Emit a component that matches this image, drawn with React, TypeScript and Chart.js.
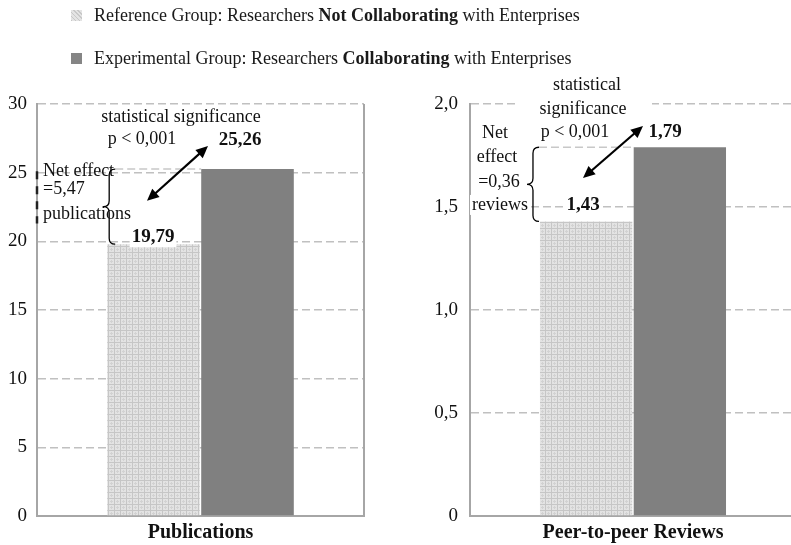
import React, { useEffect, useRef } from "react";
import { Chart, registerables } from "chart.js";
Chart.register(...registerables);

const FONT = "'Liberation Serif', 'Times New Roman', serif";

// ---- data ----
const seriesNames = [
  "Reference Group: Researchers Not Collaborating with Enterprises",
  "Experimental Group: Researchers Collaborating with Enterprises",
];
const pubCategories = ["Publications"];
const pubReference = [19.79];
const pubExperimental = [25.26];
const pubTickValues = [0, 5, 10, 15, 20, 25, 30];
const pubTickLabels = ["0", "5", "10", "15", "20", "25", "30"];
const pubValueLabels = ["19,79", "25,26"];
const pubNetEffect = ["Net effect", "=5,47", "publications"];

const revCategories = ["Peer-to-peer Reviews"];
const revReference = [1.43];
const revExperimental = [1.79];
const revTickValues = [0, 0.5, 1, 1.5, 2];
const revTickLabels = ["0", "0,5", "1,0", "1,5", "2,0"];
const revValueLabels = ["1,43", "1,79"];
const revNetEffect = ["Net", "effect", "=0,36", "reviews"];

const significanceText = ["statistical significance", "p < 0,001"];
const significanceTextSplit = ["statistical", "significance", "p < 0,001"];

type Txt = { text: string; dx: number; v: number; align: CanvasTextAlign; bold?: boolean; bg?: boolean };
type Ann = {
  texts: Txt[];
  boxes: { dx1: number; dx2: number; v1: number; v2: number }[];
  arrow: { dx1: number; v1: number; dx2: number; v2: number };
  braceOffset: number;
  vTop: number;
  vBot: number;
  leftDash?: { v1: number; v2: number };
  rightBorder: boolean;
};

function makeHatch(): CanvasPattern | string {
  const c = document.createElement("canvas");
  c.width = 6;
  c.height = 6;
  const g = c.getContext("2d");
  if (!g) return "#d0d0d0";
  g.fillStyle = "#e3e3e3";
  g.fillRect(0, 0, 6, 6);
  g.fillStyle = "#c6c6c6";
  g.fillRect(0, 0, 6, 1);
  g.fillRect(0, 0, 1, 6);
  g.fillStyle = "#d2d2d2";
  g.fillRect(3, 2, 1, 3);
  g.fillRect(2, 3, 3, 1);
  return g.createPattern(c, "repeat") || "#d0d0d0";
}

function drawArrow(ctx: CanvasRenderingContext2D, x1: number, y1: number, x2: number, y2: number) {
  const ang = Math.atan2(y2 - y1, x2 - x1);
  const h = 12;
  const w = 5.5;
  const c = Math.cos(ang);
  const s = Math.sin(ang);
  ctx.beginPath();
  ctx.moveTo(x1 + c * h * 0.7, y1 + s * h * 0.7);
  ctx.lineTo(x2 - c * h * 0.7, y2 - s * h * 0.7);
  ctx.stroke();
  const head = (x: number, y: number, cc: number, ss: number) => {
    ctx.beginPath();
    ctx.moveTo(x, y);
    ctx.lineTo(x - h * cc + w * ss, y - h * ss - w * cc);
    ctx.lineTo(x - h * cc - w * ss, y - h * ss + w * cc);
    ctx.closePath();
    ctx.fill();
  };
  head(x2, y2, c, s);
  head(x1, y1, -c, -s);
}

function drawBrace(ctx: CanvasRenderingContext2D, x: number, yTop: number, yBot: number, w: number) {
  const ym = (yTop + yBot) / 2;
  ctx.beginPath();
  ctx.moveTo(x + w, yTop);
  ctx.quadraticCurveTo(x, yTop, x, yTop + w);
  ctx.lineTo(x, ym - w);
  ctx.quadraticCurveTo(x, ym, x - w, ym);
  ctx.quadraticCurveTo(x, ym, x, ym + w);
  ctx.lineTo(x, yBot - w);
  ctx.quadraticCurveTo(x, yBot, x + w, yBot);
  ctx.stroke();
}

function makeAnnotPlugin(a: Ann) {
  return {
    id: "annots",
    afterDraw(chart: any) {
      const ctx: CanvasRenderingContext2D = chart.ctx;
      const { left, right, top, bottom } = chart.chartArea;
      const ys = chart.scales.y;
      const X = (dx: number) => left + dx;
      const Y = (v: number) => ys.getPixelForValue(v);
      ctx.save();
      if (a.rightBorder) {
        ctx.strokeStyle = "#a6a6a6";
        ctx.lineWidth = 2;
        ctx.beginPath();
        ctx.moveTo(right, top);
        ctx.lineTo(right, bottom + 1);
        ctx.stroke();
      }
      ctx.fillStyle = "#ffffff";
      for (const b of a.boxes) {
        ctx.fillRect(X(b.dx1), Y(b.v1), X(b.dx2) - X(b.dx1), Y(b.v2) - Y(b.v1));
      }
      const bar0 = chart.getDatasetMeta(0).data[0];
      const bar1 = chart.getDatasetMeta(1).data[0];
      const lightLeft = bar0.x - bar0.width / 2;
      const darkLeft = bar1.x - bar1.width / 2;
      const braceX = lightLeft + a.braceOffset;
      ctx.setLineDash([8, 4]);
      ctx.strokeStyle = "#c8c8c8";
      ctx.lineWidth = 1.5;
      ctx.beginPath();
      ctx.moveTo(braceX + 6, Y(a.vTop));
      ctx.lineTo(darkLeft, Y(a.vTop));
      ctx.stroke();
      if (a.leftDash) {
        ctx.setLineDash([8, 7]);
        ctx.strokeStyle = "#222";
        ctx.lineWidth = 2.5;
        ctx.beginPath();
        ctx.moveTo(left, Y(a.leftDash.v1));
        ctx.lineTo(left, Y(a.leftDash.v2));
        ctx.stroke();
      }
      ctx.setLineDash([]);
      ctx.textBaseline = "middle";
      for (const t of a.texts) {
        ctx.font = t.bold ? `bold 19px ${FONT}` : `18px ${FONT}`;
        ctx.textAlign = t.align;
        const w = ctx.measureText(t.text).width;
        const x = X(t.dx);
        const y = Y(t.v);
        if (t.bg) {
          const x0 = t.align === "center" ? x - w / 2 : t.align === "right" ? x - w : x;
          ctx.fillStyle = "#ffffff";
          ctx.fillRect(x0 - 2, y - 10, w + 4, 20);
        }
        ctx.fillStyle = "#111111";
        ctx.fillText(t.text, x, y);
      }
      ctx.strokeStyle = "#000";
      ctx.lineWidth = 1.3;
      drawBrace(ctx, braceX, Y(a.vTop), Y(a.vBot), 6);
      ctx.lineWidth = 2.2;
      ctx.fillStyle = "#000";
      drawArrow(ctx, X(a.arrow.dx1), Y(a.arrow.v1), X(a.arrow.dx2), Y(a.arrow.v2));
      ctx.restore();
    },
  };
}

function buildConfig(
  labels: string[],
  ref: number[],
  exp: number[],
  max: number,
  step: number,
  tickValues: number[],
  tickLabels: string[],
  yWidth: number,
  tickPad: number,
  padRight: number,
  ann: Ann
): any {
  return {
    type: "bar",
    data: {
      labels,
      datasets: [
        {
          label: seriesNames[0],
          data: ref,
          backgroundColor: makeHatch(),
          borderWidth: 0,
          categoryPercentage: 0.575,
          barPercentage: 0.985,
        },
        {
          label: seriesNames[1],
          data: exp,
          backgroundColor: "#808080",
          borderWidth: 0,
          categoryPercentage: 0.575,
          barPercentage: 0.985,
        },
      ],
    },
    options: {
      animation: false,
      responsive: false,
      layout: { padding: { top: 104, right: padRight, left: 0, bottom: 0 } },
      plugins: { legend: { display: false }, tooltip: { enabled: false } },
      scales: {
        x: {
          grid: { display: false, drawTicks: false },
          border: { display: true, color: "#a6a6a6", width: 2 },
          ticks: { color: "#111", font: { family: FONT, size: 20, weight: "bold" }, padding: 5 },
          afterFit: (s: any) => {
            s.height = 29;
          },
        },
        y: {
          min: 0,
          max,
          ticks: {
            stepSize: step,
            color: "#111",
            font: { family: FONT, size: 19 },
            padding: tickPad,
            callback: (v: number) => {
              const i = tickValues.findIndex((t) => Math.abs(t - v) < 1e-9);
              return i >= 0 ? tickLabels[i] : "";
            },
          },
          grid: {
            drawTicks: false,
            lineWidth: 1.6,
            color: (c: any) => (c.tick && c.tick.value === 0 ? "rgba(0,0,0,0)" : "#c0c0c0"),
          },
          border: { display: true, color: "#a6a6a6", width: 2, dash: [8, 4] },
          afterFit: (s: any) => {
            s.width = yWidth;
          },
        },
      },
    },
    plugins: [makeAnnotPlugin(ann)],
  };
}

const pubAnn: Ann = {
  texts: [
    { text: significanceText[0], dx: 144, v: 29.0, align: "center" },
    { text: significanceText[1], dx: 105, v: 27.4, align: "center" },
    { text: pubValueLabels[1], dx: 203, v: 27.4, align: "center", bold: true },
    { text: pubNetEffect[0], dx: 6, v: 25.1, align: "left" },
    { text: pubNetEffect[1], dx: 6, v: 23.8, align: "left" },
    { text: pubNetEffect[2], dx: 6, v: 22.0, align: "left" },
    { text: pubValueLabels[0], dx: 116, v: 20.3, align: "center", bold: true, bg: true },
  ],
  boxes: [],
  arrow: { dx1: 110, v1: 22.95, dx2: 171, v2: 26.94 },
  braceOffset: 2,
  vTop: pubExperimental[0],
  vBot: pubReference[0],
  leftDash: { v1: 25.1, v2: 21.3 },
  rightBorder: true,
};

const revAnn: Ann = {
  texts: [
    { text: significanceTextSplit[0], dx: 117, v: 2.092, align: "center" },
    { text: significanceTextSplit[1], dx: 113, v: 1.976, align: "center" },
    { text: significanceTextSplit[2], dx: 105, v: 1.864, align: "center" },
    { text: revValueLabels[1], dx: 195, v: 1.864, align: "center", bold: true },
    { text: revNetEffect[0], dx: 25, v: 1.859, align: "center" },
    { text: revNetEffect[1], dx: 27, v: 1.743, align: "center" },
    { text: revNetEffect[2], dx: 29, v: 1.621, align: "center" },
    { text: revNetEffect[3], dx: 30, v: 1.51, align: "center", bg: true },
    { text: revValueLabels[0], dx: 113, v: 1.51, align: "center", bold: true, bg: true },
  ],
  boxes: [{ dx1: 47, dx2: 182, v1: 2.06, v2: 1.95 }],
  arrow: { dx1: 113, v1: 1.641, dx2: 173, v2: 1.893 },
  braceOffset: -7,
  vTop: revExperimental[0],
  vBot: revReference[0],
  rightBorder: false,
};

function Legend() {
  const base: React.CSSProperties = {
    position: "absolute",
    left: 71,
    fontFamily: FONT,
    fontSize: 18,
    color: "#1a1a1a",
    whiteSpace: "nowrap",
    display: "flex",
    alignItems: "center",
    lineHeight: "20px",
  };
  const sq: React.CSSProperties = { width: 11, height: 11, marginRight: 12, display: "inline-block" };
  return (
    <>
      <div style={{ ...base, top: 5 }}>
        <span
          style={{
            ...sq,
            background: "repeating-linear-gradient(45deg,#c8c8c8 0 1px,#e4e4e4 1px 3px)",
          }}
        />
        <span>
          Reference Group: Researchers <b>Not Collaborating</b> with Enterprises
        </span>
      </div>
      <div style={{ ...base, top: 48 }}>
        <span style={{ ...sq, background: "#858585" }} />
        <span>
          Experimental Group: Researchers <b>Collaborating</b> with Enterprises
        </span>
      </div>
    </>
  );
}

export default function App() {
  const leftRef = useRef<HTMLCanvasElement>(null);
  const rightRef = useRef<HTMLCanvasElement>(null);
  useEffect(() => {
    if (!leftRef.current || !rightRef.current) return;
    const c1 = new Chart(
      leftRef.current,
      buildConfig(pubCategories, pubReference, pubExperimental, 30, 5, pubTickValues, pubTickLabels, 37, 10, 31, pubAnn)
    );
    const c2 = new Chart(
      rightRef.current,
      buildConfig(revCategories, revReference, revExperimental, 2, 0.5, revTickValues, revTickLabels, 75, 12, 0, revAnn)
    );
    return () => {
      c1.destroy();
      c2.destroy();
    };
  }, []);
  return (
    <div
      style={{
        position: "fixed",
        left: 0,
        top: 0,
        width: 791,
        height: 545,
        overflow: "hidden",
        background: "#fff",
      }}
    >
      <canvas ref={leftRef} width={395} height={545} style={{ position: "absolute", left: 0, top: 0, width: 395, height: 545 }} />
      <canvas ref={rightRef} width={401} height={545} style={{ position: "absolute", left: 395, top: 0, width: 401, height: 545 }} />
      <Legend />
    </div>
  );
}
